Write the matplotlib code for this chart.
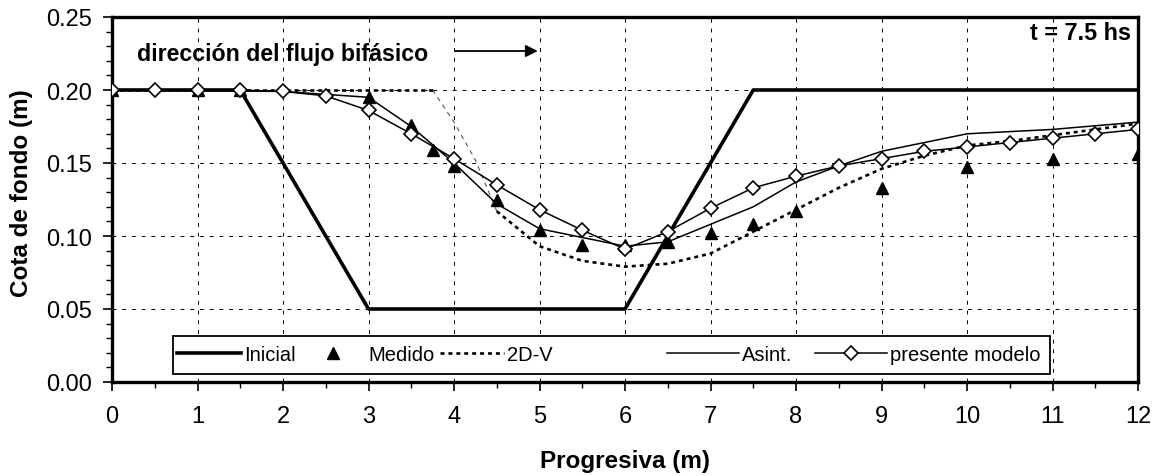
import matplotlib
matplotlib.use("Agg")
import matplotlib.pyplot as plt
from matplotlib.ticker import MultipleLocator, FormatStrFormatter
from matplotlib.patches import Rectangle

plt.rcParams['font.family'] = ['Liberation Sans', 'DejaVu Sans']

# ---- data ----
x_inicial = [0, 1.5, 3, 6, 7.5, 12]
y_inicial = [0.20, 0.20, 0.05, 0.05, 0.20, 0.20]

x_medido = [0, 1, 1.5, 3, 3.5, 3.75, 4, 4.5, 5, 5.5, 6, 6.5, 7, 7.5, 8, 9, 10, 11, 12]
y_medido = [0.200, 0.200, 0.200, 0.195, 0.176, 0.159, 0.148, 0.125, 0.104, 0.094, 0.094,
            0.096, 0.102, 0.108, 0.117, 0.133, 0.147, 0.153, 0.156]

x_2dv = [0, 3.75, 4.0, 4.25, 4.5, 5, 5.5, 6, 6.5, 7, 7.5, 8, 8.5, 9, 9.5, 10, 10.5, 11, 11.5, 12]
y_2dv = [0.200, 0.200, 0.178, 0.152, 0.117, 0.093, 0.083, 0.079, 0.081, 0.088, 0.103, 0.118,
         0.133, 0.146, 0.155, 0.162, 0.165, 0.169, 0.173, 0.177]

x_asint = [0, 2, 2.5, 3, 3.5, 4, 4.5, 5, 5.5, 6, 6.5, 7, 7.5, 8, 8.5, 9, 10, 11, 12]
y_asint = [0.200, 0.199, 0.197, 0.195, 0.175, 0.150, 0.122, 0.105, 0.099, 0.093, 0.096,
           0.108, 0.120, 0.137, 0.148, 0.158, 0.170, 0.173, 0.178]

x_modelo = [0, 0.5, 1, 1.5, 2, 2.5, 3, 3.5, 4, 4.5, 5, 5.5, 6, 6.5, 7, 7.5, 8, 8.5, 9,
            9.5, 10, 10.5, 11, 11.5, 12]
y_modelo = [0.200, 0.200, 0.200, 0.200, 0.199, 0.196, 0.186, 0.170, 0.153, 0.135, 0.118,
            0.104, 0.091, 0.103, 0.119, 0.133, 0.141, 0.148, 0.153, 0.158, 0.161, 0.164,
            0.167, 0.170, 0.173]

x_ticks = list(range(0, 13))
y_ticks = [0.00, 0.05, 0.10, 0.15, 0.20, 0.25]

# ---- figure ----
fig = plt.figure(figsize=(11.6, 4.77), dpi=100)
ax = fig.add_axes([112/1160, 1 - 383/477, (1138-112)/1160, (383-18)/477])

ax.grid(True, which='major', color='black', linestyle=(0, (4, 6)), linewidth=0.7, zorder=0)
ax.set_axisbelow(True)

l_ini, = ax.plot(x_inicial, y_inicial, color='black', lw=2.6, label='Inicial', zorder=2)
l_med, = ax.plot(x_medido, y_medido, linestyle='none', marker='^', markersize=9,
                 color='black', label='Medido', zorder=3)
# 2D-V: steep part renders thin in the reference
i0, i1 = 1, 4
ax.plot(x_2dv[i0:i1+1], y_2dv[i0:i1+1], color='#555555', lw=0.8, linestyle=(0, (4, 4)), zorder=4)
l_2dv, = ax.plot(x_2dv[:i0+1], y_2dv[:i0+1], color='black', lw=1.9, linestyle=(0, (1.5, 1.5)),
                 label='2D-V', zorder=4)
ax.plot(x_2dv[i1:], y_2dv[i1:], color='black', lw=1.9, linestyle=(0, (1.5, 1.5)), zorder=4)
l_as, = ax.plot(x_asint, y_asint, color='black', lw=1.1, label='Asint.', zorder=5)
l_mod, = ax.plot(x_modelo, y_modelo, color='black', lw=1.1, marker='D', markersize=7.5,
                 markerfacecolor='white', markeredgecolor='black', markeredgewidth=1.2,
                 label='presente modelo', zorder=6)

ax.set_xlim(0, 12)
ax.set_ylim(0, 0.25)
ax.set_xticks(x_ticks)
ax.set_yticks(y_ticks)
ax.xaxis.set_minor_locator(MultipleLocator(0.5))
ax.yaxis.set_minor_locator(MultipleLocator(0.01))
ax.yaxis.set_major_formatter(FormatStrFormatter('%.2f'))
ax.tick_params(axis='both', which='major', direction='out', length=6.5, width=1.2,
               labelsize=17, color='black')
ax.tick_params(axis='x', which='major', pad=10)
ax.tick_params(axis='y', which='major', pad=8)
ax.tick_params(axis='both', which='minor', direction='out', length=4, width=1.0)

for s in ax.spines.values():
    s.set_linewidth(2.4)
    s.set_color('black')

ax.set_xlabel('Progresiva (m)', fontsize=17.5, fontweight='bold')
ax.xaxis.set_label_coords(0.5, -0.2137)
ax.xaxis.label.set_va('center')
ax.set_ylabel('Cota de fondo (m)', fontsize=17.5, fontweight='bold')
ax.yaxis.set_label_coords(-0.0882, 0.52)
ax.yaxis.label.set_va('center')

ax.text(0.29, 0.2247, 'dirección del flujo bifásico', fontsize=16.7, fontweight='bold',
        ha='left', va='center', zorder=7)
ax.annotate('', xy=(4.98, 0.2267), xytext=(4.01, 0.2267),
            arrowprops=dict(arrowstyle='-|>', color='black', lw=1.3, mutation_scale=18,
                            shrinkA=0, shrinkB=0), zorder=7)
ax.text(11.92, 0.2397, 't = 7.5 hs', fontsize=16.8, fontweight='bold', ha='right', va='center',
        zorder=7)

# legend frame + two frameless legends (reference spacing is uneven)
frame = Rectangle((0.0595, 0.022), 0.8545, 0.104, transform=ax.transAxes, facecolor='white',
                  edgecolor='black', lw=1.3, zorder=9)
ax.add_patch(frame)
common = dict(loc='center left', fontsize=14.5, frameon=False, borderaxespad=0, borderpad=0,
              handlelength=3.2, handletextpad=0.15, columnspacing=0.25)
legA = ax.legend(handles=[l_ini, l_med, l_2dv], ncol=3, bbox_to_anchor=(0.0634, 0.074), **common)
legA.set_zorder(10)
ax.add_artist(legA)
legB = ax.legend(handles=[l_as, l_mod], ncol=2, bbox_to_anchor=(0.541, 0.074),
                 **dict(common, columnspacing=1.15, handlelength=3.55))
legB.set_zorder(10)

fig.savefig('out.png', dpi=100)
